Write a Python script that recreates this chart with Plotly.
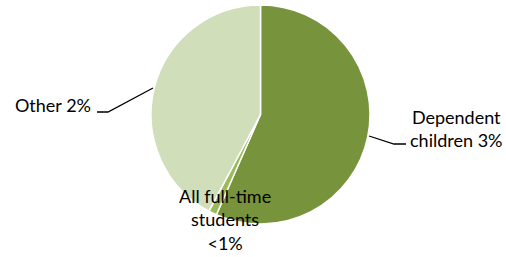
import plotly.graph_objects as go

categories = ["Dependent children", "All full-time students", "Other"]
values = [56.6, 1.2, 42.2]
label_texts = ["Dependent<br>children 3%", "All full-time<br>students<br><1%", "Other 2%"]
colors = ["#77933C", "#9BBB59", "#D0DEBA"]

W, H = 506, 257

def px(x):
    return x / W

def py(y):
    return 1 - y / H

cx, cy, r = 260.5, 114.5, 109.5

fig = go.Figure(go.Pie(
    labels=categories,
    values=values,
    sort=False,
    direction="clockwise",
    rotation=0,
    textinfo="none",
    hoverinfo="label+percent",
    marker=dict(colors=colors, line=dict(color="white", width=1.5)),
    domain=dict(x=[px(cx - r), px(cx + r)], y=[py(cy + r), py(cy - r)]),
    showlegend=False,
))

font = dict(family="Lato, Calibri, sans-serif", size=18, color="#000000")

ann_pos = [(456, 128), (225, 219), (53, 105)]
for t, (x, y) in zip(label_texts, ann_pos):
    fig.add_annotation(x=px(x), y=py(y), xref="paper", yref="paper", text=t,
                       showarrow=False, font=font, xanchor="center", yanchor="middle",
                       align="center")

leader_lines = [
    [(369, 136), (394, 144), (406, 144)],
    [(97, 112), (108, 112), (153, 88)],
]
for pts in leader_lines:
    path = "M " + " L ".join(f"{px(x)},{py(y)}" for x, y in pts)
    fig.add_shape(type="path", path=path, xref="paper", yref="paper",
                  line=dict(color="black", width=1.3))

fig.update_layout(
    width=W, height=H,
    margin=dict(l=0, r=0, t=0, b=0),
    paper_bgcolor="white",
    plot_bgcolor="white",
)

fig.write_html("out.html", config={"displayModeBar": False},
               post_script="document.body.style.margin='0';document.body.style.overflow='hidden';")
